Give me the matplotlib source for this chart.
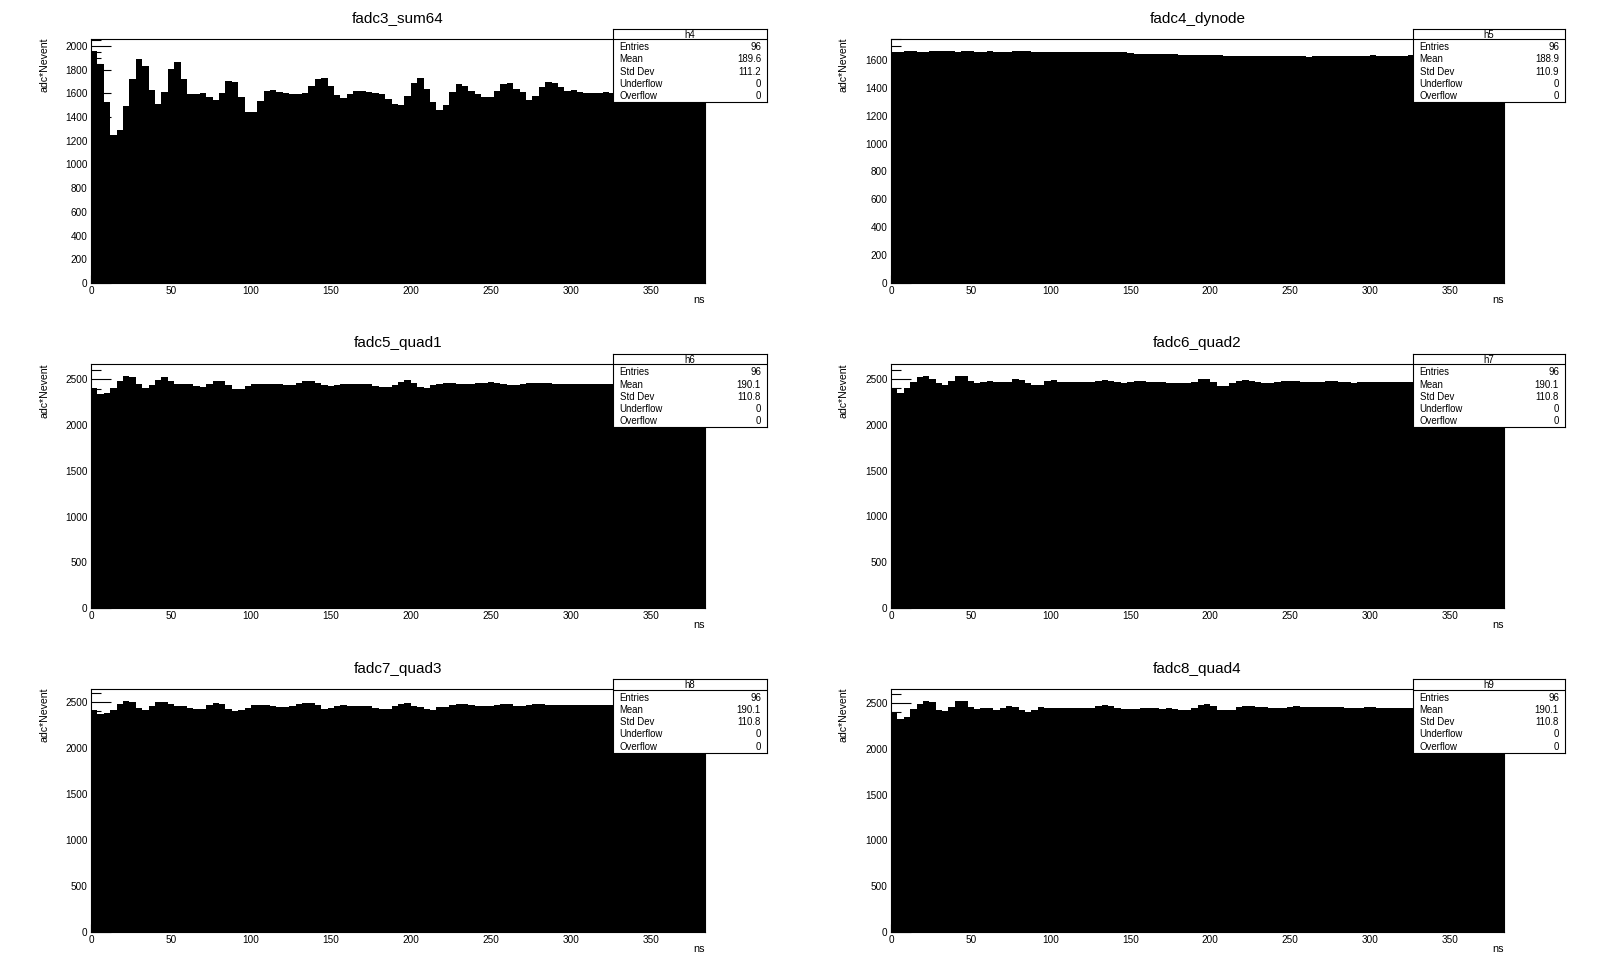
import matplotlib
matplotlib.use("Agg")
import matplotlib.pyplot as plt
import numpy as np
from matplotlib.ticker import MultipleLocator

plt.rcParams['font.family'] = ['Liberation Sans', 'DejaVu Sans']

W, H = 1598, 974

# ---------- data (96 bins, 4 ns each) ----------
edges = np.arange(0, 385, 4)

sum64 = [1961, 1852, 1524, 1245, 1295, 1497, 1723, 1888, 1832, 1631,
         1513, 1614, 1807, 1866, 1723, 1597, 1597, 1605, 1572, 1547,
         1605, 1706, 1695, 1572, 1446, 1446, 1538, 1622, 1631, 1614,
         1605, 1597, 1597, 1605, 1664, 1723, 1731, 1664, 1589, 1564,
         1597, 1622, 1622, 1614, 1605, 1597, 1555, 1513, 1505, 1580,
         1690, 1731, 1639, 1524, 1463, 1505, 1614, 1681, 1664, 1622,
         1597, 1572, 1572, 1622, 1681, 1687, 1639, 1614, 1547, 1580,
         1653, 1695, 1687, 1653, 1622, 1631, 1614, 1603, 1603, 1603,
         1614, 1603, 1600, 1605, 1610, 1600, 1595, 1600, 1605, 1600,
         1595, 1600, 1605, 1600, 1598, 1600]

dynode = [1655, 1655, 1667, 1667, 1658, 1658, 1667, 1667, 1667, 1667,
          1660, 1667, 1667, 1660, 1660, 1667, 1660, 1660, 1660, 1667,
          1663, 1667, 1658, 1658, 1658, 1658, 1658, 1658, 1658, 1658,
          1658, 1658, 1658, 1658, 1658, 1658, 1658, 1653, 1646, 1646,
          1646, 1646, 1646, 1646, 1646, 1639, 1639, 1639, 1639, 1639,
          1639, 1639, 1631, 1631, 1631, 1631, 1631, 1631, 1631, 1631,
          1631, 1631, 1631, 1631, 1631, 1624, 1627, 1627, 1627, 1627,
          1627, 1627, 1627, 1627, 1627, 1636, 1627, 1627, 1627, 1627,
          1627, 1634, 1634, 1627, 1627, 1627, 1627, 1627, 1627, 1627,
          1627, 1627, 1627, 1627, 1627, 1627]

quad1 = [2410, 2343, 2351, 2407, 2481, 2541, 2530, 2451, 2407, 2440,
         2493, 2526, 2481, 2451, 2451, 2451, 2425, 2414, 2451, 2481,
         2481, 2440, 2392, 2392, 2429, 2451, 2451, 2451, 2451, 2451,
         2440, 2440, 2463, 2481, 2481, 2463, 2440, 2429, 2440, 2451,
         2451, 2451, 2451, 2451, 2429, 2414, 2414, 2440, 2470, 2493,
         2463, 2420, 2410, 2440, 2450, 2455, 2455, 2450, 2450, 2450,
         2455, 2465, 2475, 2465, 2445, 2435, 2440, 2450, 2455, 2460,
         2455, 2455, 2450, 2445, 2445, 2445, 2445, 2445, 2445, 2445,
         2445, 2445, 2440, 2440, 2440, 2440, 2440, 2440, 2440, 2440,
         2440, 2440, 2440, 2440, 2440, 2440]

quad2 = [2403, 2351, 2403, 2470, 2522, 2537, 2504, 2451, 2440, 2481,
         2537, 2537, 2481, 2451, 2463, 2481, 2470, 2463, 2470, 2500,
         2489, 2455, 2433, 2440, 2481, 2485, 2470, 2463, 2463, 2470,
         2470, 2470, 2481, 2489, 2481, 2463, 2451, 2470, 2481, 2481,
         2470, 2470, 2463, 2451, 2451, 2451, 2451, 2470, 2500, 2500,
         2470, 2429, 2429, 2451, 2481, 2489, 2481, 2463, 2451, 2451,
         2465, 2475, 2481, 2481, 2465, 2465, 2470, 2470, 2481, 2481,
         2470, 2470, 2455, 2463, 2463, 2463, 2463, 2463, 2463, 2463,
         2463, 2463, 2460, 2460, 2460, 2460, 2460, 2460, 2460, 2460,
         2460, 2460, 2460, 2460, 2460, 2460]

quad3 = [2417, 2366, 2377, 2417, 2475, 2515, 2504, 2438, 2417, 2453,
         2504, 2504, 2475, 2453, 2453, 2438, 2427, 2427, 2464, 2485,
         2475, 2427, 2398, 2409, 2438, 2464, 2464, 2464, 2453, 2442,
         2442, 2453, 2475, 2485, 2485, 2464, 2427, 2438, 2453, 2464,
         2453, 2453, 2453, 2453, 2438, 2427, 2427, 2453, 2475, 2485,
         2460, 2440, 2420, 2410, 2440, 2450, 2465, 2475, 2475, 2465,
         2455, 2455, 2455, 2465, 2475, 2475, 2455, 2455, 2465, 2475,
         2480, 2465, 2465, 2465, 2465, 2465, 2465, 2465, 2465, 2465,
         2465, 2465, 2460, 2460, 2460, 2460, 2460, 2460, 2460, 2460,
         2460, 2460, 2460, 2460, 2460, 2460]

quad4 = [2402, 2319, 2351, 2438, 2493, 2525, 2504, 2427, 2406, 2460,
         2515, 2525, 2460, 2431, 2442, 2442, 2427, 2449, 2471, 2456,
         2420, 2402, 2420, 2460, 2442, 2442, 2442, 2442, 2442, 2449,
         2449, 2449, 2464, 2475, 2471, 2449, 2438, 2438, 2438, 2449,
         2449, 2449, 2438, 2449, 2438, 2427, 2420, 2449, 2482, 2489,
         2471, 2427, 2417, 2427, 2453, 2471, 2470, 2460, 2450, 2445,
         2440, 2440, 2460, 2465, 2450, 2450, 2450, 2455, 2455, 2460,
         2460, 2440, 2440, 2445, 2450, 2450, 2440, 2440, 2440, 2440,
         2440, 2440, 2440, 2440, 2440, 2440, 2440, 2440, 2440, 2440,
         2440, 2440, 2440, 2440, 2440, 2440]

titles = ["fadc3_sum64", "fadc4_dynode", "fadc5_quad1",
          "fadc6_quad2", "fadc7_quad3", "fadc8_quad4"]
series = [sum64, dynode, quad1, quad2, quad3, quad4]
hnames = ["h4", "h5", "h6", "h7", "h8", "h9"]
entries = [96, 96, 96, 96, 96, 96]
means = ["189.6", "188.9", "190.1", "190.1", "190.1", "190.1"]
stds = ["111.2", "110.9", "110.8", "110.8", "110.8", "110.8"]
ymajor = [200, 200, 500, 500, 500, 500]
yminor = [50, 50, 100, 100, 100, 100]

# ---------- layout (pixels) ----------
cols = [(91, 705), (891, 1504)]
rows = [(39, 283), (364, 608), (689, 932)]
box_cols = [(613, 767), (1413, 1565)]
box_tops = [28.5, 353.6, 679]
BOX_H = 73.5
TICK_FS = 7.2
STAT_FS = 6.9


def px_axes(fig, x0, y0, x1, y1, **kw):
    return fig.add_axes([x0 / W, 1 - y1 / H, (x1 - x0) / W, (y1 - y0) / H], **kw)


fig = plt.figure(figsize=(W / 100, H / 100), dpi=100)
fig.patch.set_facecolor("white")

for i, vals in enumerate(series):
    r, c = divmod(i, 2)
    x0, x1 = cols[c]
    y0, y1 = rows[r]
    ax = px_axes(fig, x0, y0, x1, y1)
    ax.stairs(vals, edges, fill=True, color="black", linewidth=0)
    ax.set_xlim(0, 384)
    ax.set_ylim(0, max(vals) * 1.05)
    ax.xaxis.set_major_locator(MultipleLocator(50))
    ax.xaxis.set_minor_locator(MultipleLocator(10))
    ax.yaxis.set_major_locator(MultipleLocator(ymajor[i]))
    ax.yaxis.set_minor_locator(MultipleLocator(yminor[i]))
    ax.tick_params(which="both", direction="in", labelsize=TICK_FS, pad=2.5,
                   width=0.8, color="black")
    ax.tick_params(axis="y", which="major", length=14.4)
    ax.tick_params(axis="y", which="minor", length=7.2)
    ax.tick_params(axis="x", which="major", length=6)
    ax.tick_params(axis="x", which="minor", length=3)
    for s in ax.spines.values():
        s.set_linewidth(0.8)

    # title, axis titles
    cx = (x0 + x1) / 2
    ty = [18.5, 343, 669][r]
    fig.text(cx / W, 1 - ty / H, titles[i], ha="center", va="center", fontsize=11)
    fig.text((x0 - 47) / W, 1 - (y0 - 1) / H, "adc*Nevent", rotation=90,
             ha="center", va="top", fontsize=7.6)
    fig.text(x1 / W, 1 - (y1 + 17) / H, "ns", ha="right", va="center", fontsize=7.8)

    # stats box
    bx0, bx1 = box_cols[c]
    by0 = box_tops[r]
    bax = px_axes(fig, bx0, by0, bx1, by0 + BOX_H)
    bax.set_xlim(0, bx1 - bx0)
    bax.set_ylim(BOX_H, 0)
    bax.set_xticks([])
    bax.set_yticks([])
    bax.set_facecolor("white")
    for s in bax.spines.values():
        s.set_linewidth(0.8)
    bw = bx1 - bx0
    bax.axhline(10.8, color="black", linewidth=0.8)
    bax.text(bw / 2, 6.4, hnames[i], ha="center", va="center", fontsize=STAT_FS)
    labels = ["Entries", "Mean", "Std Dev", "Underflow", "Overflow"]
    values = [str(entries[i]), means[i], stds[i], "0", "0"]
    for k, (lab, val) in enumerate(zip(labels, values)):
        yy = 18.8 + 12.2 * k
        bax.text(6.5, yy, lab, ha="left", va="center", fontsize=STAT_FS)
        bax.text(bw - 6, yy, val, ha="right", va="center", fontsize=STAT_FS)

fig.savefig("out.png", dpi=100)
